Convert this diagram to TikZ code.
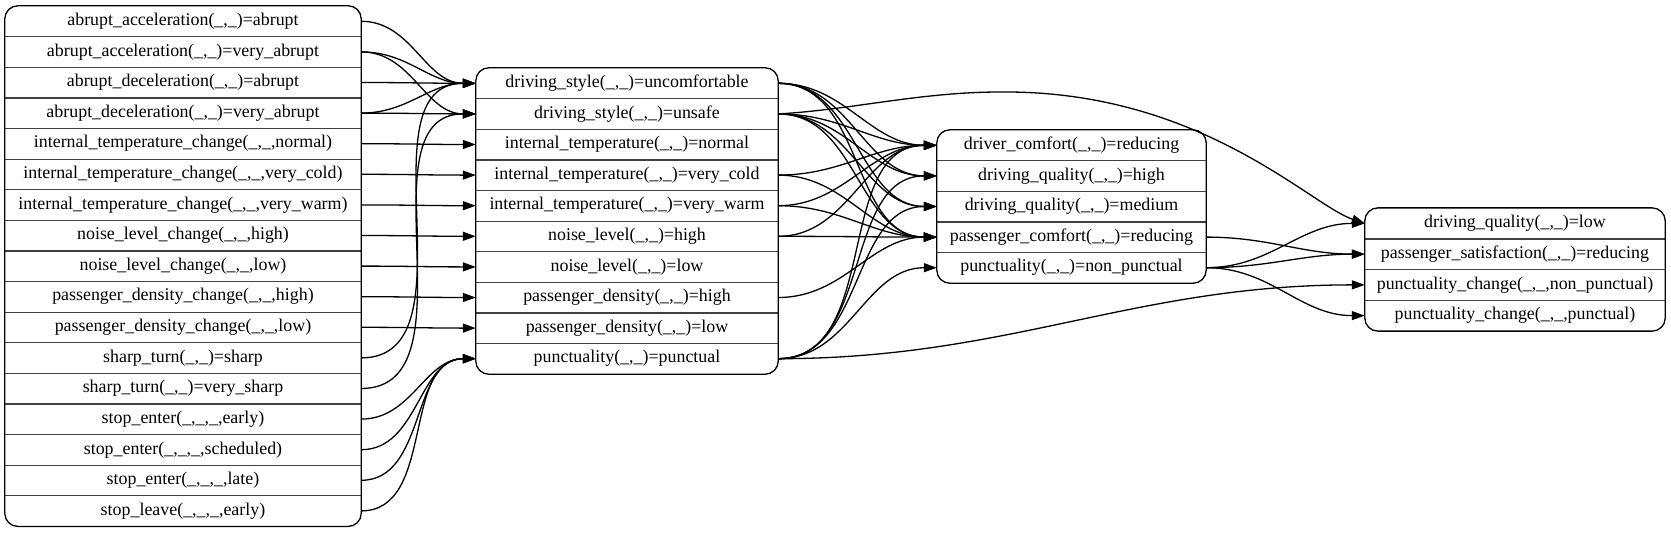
\documentclass[tikz,border=0pt]{standalone}
\usepackage{fontspec}
\setmainfont{Liberation Serif}
\usepackage{tikz}
\usetikzlibrary{arrows.meta}
\tikzstyle{field}=[
        minimum height=30.6pt,
        inner sep=0pt,
        font=\fontsize{17.9}{20}\selectfont
]
\tikzstyle{link}=[
        line width=1.3pt,
        -{Triangle[length=13pt,width=9pt]}
]
\tikzstyle{rule}=[line width=1.3pt, draw=black!75]
\tikzstyle{frame}=[line width=1.3pt, rounded corners=13pt]

\begin{document}
\begin{tikzpicture}[x=1pt,y=1pt]
                        \useasboundingbox (0,0) rectangle (1671,-533);

                        % events
                        \foreach \t [count=\i from 0] in {
                            {abrupt\_acceleration(\_,\_)=abrupt},
                            {abrupt\_acceleration(\_,\_)=very\_abrupt},
                            {abrupt\_deceleration(\_,\_)=abrupt},
                            {abrupt\_deceleration(\_,\_)=very\_abrupt},
                            {internal\_temperature\_change(\_,\_,normal)},
                            {internal\_temperature\_change(\_,\_,very\_cold)},
                            {internal\_temperature\_change(\_,\_,very\_warm)},
                            {noise\_level\_change(\_,\_,high)},
                            {noise\_level\_change(\_,\_,low)},
                            {passenger\_density\_change(\_,\_,high)},
                            {passenger\_density\_change(\_,\_,low)},
                            {sharp\_turn(\_,\_)=sharp},
                            {sharp\_turn(\_,\_)=very\_sharp},
                            {stop\_enter(\_,\_,\_,early)},
                            {stop\_enter(\_,\_,\_,scheduled)},
                            {stop\_enter(\_,\_,\_,late)},
                            {stop\_leave(\_,\_,\_,early)}} {
                            \node[field, minimum width=356pt] (ev\i) at (183,{-6-30.6*(\i+0.5)}) {\t};
                        }

                        % states
                        \foreach \t [count=\i from 0] in {
                            {driving\_style(\_,\_)=uncomfortable},
                            {driving\_style(\_,\_)=unsafe},
                            {internal\_temperature(\_,\_)=normal},
                            {internal\_temperature(\_,\_)=very\_cold},
                            {internal\_temperature(\_,\_)=very\_warm},
                            {noise\_level(\_,\_)=high},
                            {noise\_level(\_,\_)=low},
                            {passenger\_density(\_,\_)=high},
                            {passenger\_density(\_,\_)=low},
                            {punctuality(\_,\_)=punctual}} {
                            \node[field, minimum width=302pt] (st\i) at (627,{-68-30.6*(\i+0.5)}) {\t};
                        }

                        % effects
                        \foreach \t [count=\i from 0] in {
                            {driver\_comfort(\_,\_)=reducing},
                            {driving\_quality(\_,\_)=high},
                            {driving\_quality(\_,\_)=medium},
                            {passenger\_comfort(\_,\_)=reducing},
                            {punctuality(\_,\_)=non\_punctual}} {
                            \node[field, minimum width=269pt] (fx\i) at (1071.5,{-130-30.6*(\i+0.5)}) {\t};
                        }

                        % results
                        \foreach \t [count=\i from 0] in {
                            {driving\_quality(\_,\_)=low},
                            {passenger\_satisfaction(\_,\_)=reducing},
                            {punctuality\_change(\_,\_,non\_punctual)},
                            {punctuality\_change(\_,\_,punctual)}} {
                            \node[field, minimum width=300pt] (res\i) at (1515,{-208-30.75*(\i+0.5)}) {\t};
                        }

                        \foreach \i in {0,...,15} \draw[rule] (ev\i.south west) -- (ev\i.south east);
                        \foreach \i in {0,...,8} \draw[rule] (st\i.south west) -- (st\i.south east);
                        \foreach \i in {0,...,3} \draw[rule] (fx\i.south west) -- (fx\i.south east);
                        \foreach \i in {0,...,2} \draw[rule] (res\i.south west) -- (res\i.south east);

                        \draw[frame] (ev0.north west) rectangle (ev16.south east);
                        \draw[frame] (st0.north west) rectangle (st9.south east);
                        \draw[frame] (fx0.north west) rectangle (fx4.south east);
                        \draw[frame] (res0.north west) rectangle (res3.south east);

                        \foreach \a/\b in {ev0/st0, ev1/st0, ev1/st1, ev2/st0, ev3/st0, ev3/st1,
                                ev4/st2, ev5/st3, ev6/st4, ev7/st5, ev8/st6, ev9/st7, ev10/st8,
                                ev11/st0, ev12/st1, ev13/st9, ev14/st9, ev15/st9, ev16/st9,
                                st0/fx0, st0/fx1, st0/fx2, st0/fx3,
                                st1/fx0, st1/fx1, st1/fx2, st1/fx3,
                                st3/fx0, st3/fx3, st4/fx0, st4/fx3, st5/fx0, st5/fx3, st7/fx3,
                                st9/fx0, st9/fx1, st9/fx2, st9/fx4,
                                fx3/res1, fx4/res0, fx4/res1, fx4/res3, st9/res2} {
                            \draw[link] (\a.east) to[out=0,in=180] (\b.west);
                        }

                        \draw[link] (st1.east) .. controls (850,-110) and (920,-92) .. (1000,-92)
                            .. controls (1200,-90) and (1310,-205) .. (res0.west);

                    \end{tikzpicture}
\end{document}
